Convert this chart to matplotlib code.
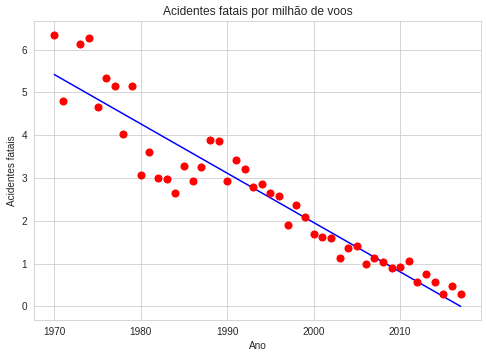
import matplotlib
matplotlib.use("Agg")
import matplotlib.pyplot as plt
import seaborn as sns
import numpy as np

anos = [1970, 1971, 1973, 1974, 1975, 1976, 1977, 1978, 1979, 1980,
        1981, 1982, 1983, 1984, 1985, 1986, 1987, 1988, 1989, 1990,
        1991, 1992, 1993, 1994, 1995, 1996, 1997, 1998, 1999, 2000,
        2001, 2002, 2003, 2004, 2005, 2006, 2007, 2008, 2009, 2010,
        2011, 2012, 2013, 2014, 2015, 2016, 2017]
acidentes = [6.35, 4.81, 6.14, 6.26, 4.65, 5.33, 5.14, 4.02, 5.16, 3.08,
             3.60, 2.99, 2.97, 2.64, 3.27, 2.92, 3.25, 3.88, 3.86, 2.92,
             3.41, 3.22, 2.80, 2.85, 2.66, 2.59, 1.89, 2.38, 2.08, 1.68,
             1.61, 1.59, 1.12, 1.36, 1.40, 0.98, 1.12, 1.03, 0.89, 0.91,
             1.05, 0.58, 0.75, 0.56, 0.30, 0.47, 0.28]

sns.set_style('whitegrid')
plt.rcParams['font.family'] = ['Liberation Sans', 'DejaVu Sans']

x = np.array(anos)
y = np.array(acidentes)
a, b = np.polyfit(x, y, 1)

fig = plt.figure(figsize=(487 / 72, 357 / 72), dpi=72)
ax = fig.add_axes([34 / 487, 1 - 320 / 357, 447 / 487, 299 / 357])
ax.scatter(x, y, color='red', s=50, zorder=3)
ax.plot(x, a * x + b, color='blue', linewidth=1.5)
ax.set_xlabel('Ano')
ax.set_ylabel('Acidentes fatais')
ax.set_title('Acidentes fatais por milhão de voos', fontsize=12)

fig.savefig('out.png', dpi=72)
